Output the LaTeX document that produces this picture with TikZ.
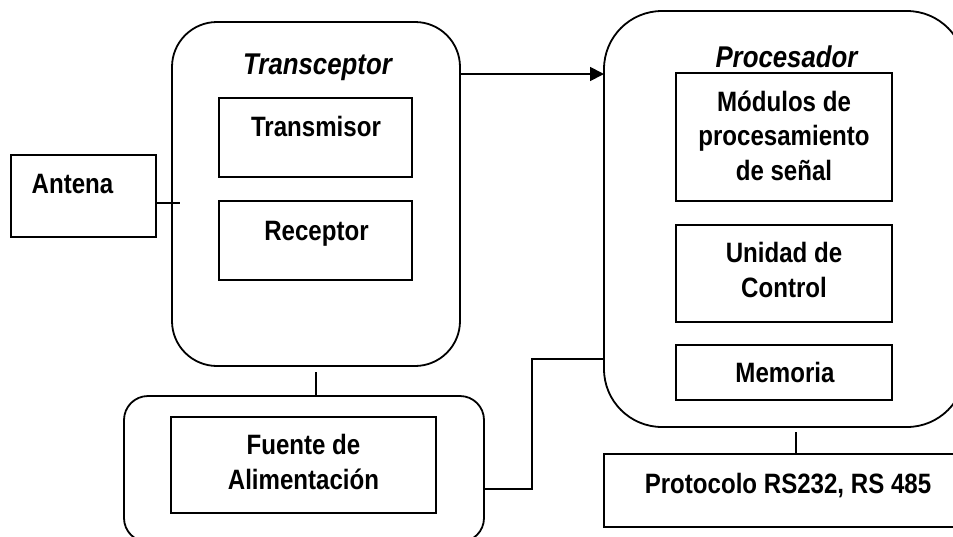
\documentclass[tikz,border=0pt]{standalone}
\usepackage{fontspec}
\setmainfont[FakeStretch=0.86]{Liberation Sans}
\usetikzlibrary{arrows.meta}
\begin{document}
\begin{tikzpicture}[x=1pt,y=-1pt,
  line width=1.8pt,
  box/.style={draw, rectangle, inner sep=0pt, outer sep=0pt},
  rbox/.style={draw, rectangle, inner sep=0pt, outer sep=0pt},
  lbl/.style={anchor=base, inner sep=0pt, align=center, font=\fontsize{28}{34.5}\selectfont\bfseries},
  ttl/.style={anchor=base, inner sep=0pt, font=\fontsize{30}{36}\selectfont\bfseries\itshape},
  arr/.style={-{Triangle[length=14pt,width=14pt]}}]
\useasboundingbox (0,0) rectangle (953,536);
\clip (0,0) rectangle (953,536);
% boxes
\node[box, minimum width=145pt, minimum height=82pt] (antena) at (83.5,196) {};
\node[rbox, rounded corners=45pt, minimum width=288pt, minimum height=344pt] (trans) at (316,194) {};
\node[box, minimum width=193pt, minimum height=79pt] (tx) at (315.5,137.5) {};
\node[box, minimum width=193pt, minimum height=79pt] (rx) at (315.5,240.5) {};
\node[rbox, rounded corners=58pt, minimum width=361pt, minimum height=416pt] (proc) at (784.5,219) {};
\node[box, minimum width=216pt, minimum height=128pt] (mod) at (784,137) {};
\node[box, minimum width=216pt, minimum height=97pt] (uc) at (784,273.5) {};
\node[box, minimum width=216pt, minimum height=55pt] (mem) at (784,372.5) {};
\node[rbox, rounded corners=24pt, minimum width=360pt, minimum height=146pt] (fuente) at (304,469) {};
\node[box, minimum width=265pt, minimum height=96pt] (fte) at (303.5,465) {};
\node[box, minimum width=356pt, minimum height=73pt] (proto) at (782,490.5) {};
% texts
\node[lbl] (tAntena) at (72.5,193) {Antena};
\node[lbl] (tTx) at (316,136) {Transmisor};
\node[lbl] (tRx) at (316.5,240) {Receptor};
\node[ttl] (tTrans) at (317.5,74) {Transceptor};
\node[ttl] (tProc) at (786.5,67) {Procesador};
\node[lbl] (tMod) at (784,180) {Módulos de\\procesamiento\\de señal};
\node[lbl] (tUC) at (784,297) {Unidad de\\Control};
\node[lbl] (tMem) at (785,382) {Memoria};
\node[lbl] (tFte) at (303.5,489) {Fuente de\\Alimentación};
\node[lbl] (tProto) at (788,493) {Protocolo RS232, RS 485};
% connectors
\coordinate (bend) at (532,359);
\coordinate (protoTop) at (796,432);
\draw (antena.east |- 0,203) -- ++(24,0);
\draw[arr] (trans.east |- 0,74) -- (proc.west |- 0,74);
\draw ([yshift=-6pt]trans.south) -- (fuente.north -| trans.south);
\draw (fuente.east |- 0,489) -| (bend) -- (proc.west |- bend);
\draw (protoTop) -- (proto.north -| protoTop);
\end{tikzpicture}
\end{document}
